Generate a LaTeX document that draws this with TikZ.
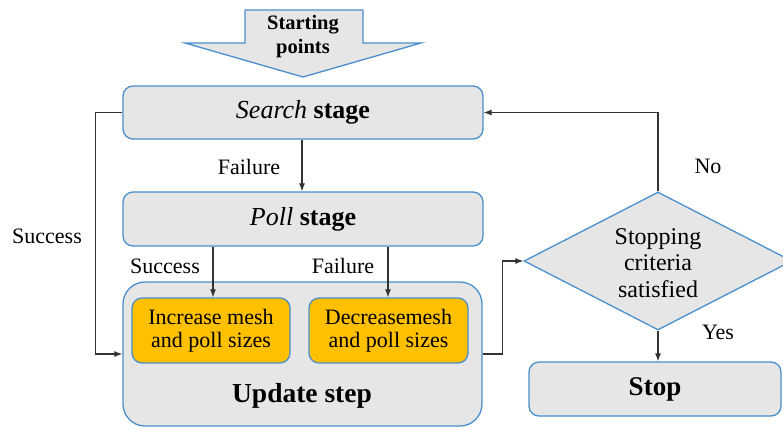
\documentclass[tikz,border=0pt]{standalone}
\usepackage{fontspec}
\setmainfont{Liberation Serif}
\usetikzlibrary{shapes.geometric,arrows.meta}
\definecolor{boxblue}{HTML}{4A8FCE}
\definecolor{boxgray}{HTML}{E6E6E6}
\definecolor{boxorange}{HTML}{FFC000}
\definecolor{linegray}{HTML}{333333}
\tikzset{
  stagebox/.style={draw=boxblue, line width=1.3pt, fill=boxgray, rounded corners=10pt,
    inner sep=0pt, font=\fontsize{26}{29}\selectfont},
  orangebox/.style={draw=boxblue, line width=1.3pt, fill=boxorange, rounded corners=10pt,
    inner sep=0pt, align=center, font=\fontsize{22}{23.5}\selectfont},
  lbl/.style={font=\fontsize{22}{24}\selectfont, inner sep=0pt},
  arr/.style={draw=linegray, line width=1.1pt, -{Latex[length=8pt,width=6pt]}},
  ln/.style={draw=linegray, line width=1.1pt},
}
\begin{document}
\begin{tikzpicture}[x=1pt,y=-1pt]
\clip (0,0) rectangle (783,429);
\fill[white] (0,0) rectangle (783,429);
% starting arrow
\draw[boxblue, line width=1.3pt, fill=boxgray, line join=miter]
  (245,10) -- (363,10) -- (363,43) -- (421,43) -- (303,77) -- (185,43) -- (245,43) -- cycle;
\node[align=center, font=\fontsize{20.5}{23.5}\selectfont\bfseries, inner sep=0pt] (start) at (303,36.5) {Starting\\points};
% stages
\node[stagebox, minimum width=360pt, minimum height=53pt] (search) at (303,112.5) {\textit{Search} \textbf{stage}};
\node[stagebox, minimum width=360pt, minimum height=54pt] (poll) at (303,219) {\textit{Poll} \textbf{stage}};
\node[stagebox, rounded corners=22pt, minimum width=359pt, minimum height=144pt] (update) at (302.5,354) {};
\node[orangebox, minimum width=158pt, minimum height=65pt] (inc) at (211,330.5) {Increase mesh\\and poll sizes};
\node[orangebox, minimum width=159pt, minimum height=65pt] (dec) at (388.5,330.5) {Decreasemesh\\and poll sizes};
\node[font=\fontsize{27.5}{30}\selectfont\bfseries, inner sep=0pt] (upd) at (302,396) {Update step};
% diamond
\node[diamond, draw=boxblue, line width=1.3pt, fill=boxgray, inner sep=0pt,
  minimum width=268pt, minimum height=138pt, shape aspect=1.94] (dia) at (658,261) {};
\node[align=center, font=\fontsize{24}{26.5}\selectfont, inner sep=0pt] (diatext) at (658,263) {Stopping\\criteria\\satisfied};
\node[stagebox, minimum width=252pt, minimum height=54pt, font=\fontsize{27}{30}\selectfont\bfseries] (stop) at (655,389) {Stop};
% connectors
\draw[arr] (search.south -| 302,0) -- (poll.north -| 302,0);
\draw[arr] (search.west) -- ++(-27,0) |- (update.west);
\draw[arr] (poll.south -| 213,0) -- (inc.north -| 213,0);
\draw[arr] (poll.south -| 388,0) -- (dec.north -| 388,0);
\draw[arr] (update.east) -- ++(20,0) |- (dia.west);
\draw[arr] (dia.north) |- (search.east);
\draw[arr] (dia.south) -- (dia.south |- stop.north);
% labels
\node[lbl] (lfail) at (249,167) {Failure};
\node[lbl] (lsucc) at (47,236) {Success};
\node[lbl] (lsucc2) at (165,266) {Success};
\node[lbl] (lfail2) at (343,266) {Failure};
\node[lbl] (lno) at (708,166) {No};
\node[lbl] (lyes) at (718,332) {Yes};
\end{tikzpicture}
\end{document}
